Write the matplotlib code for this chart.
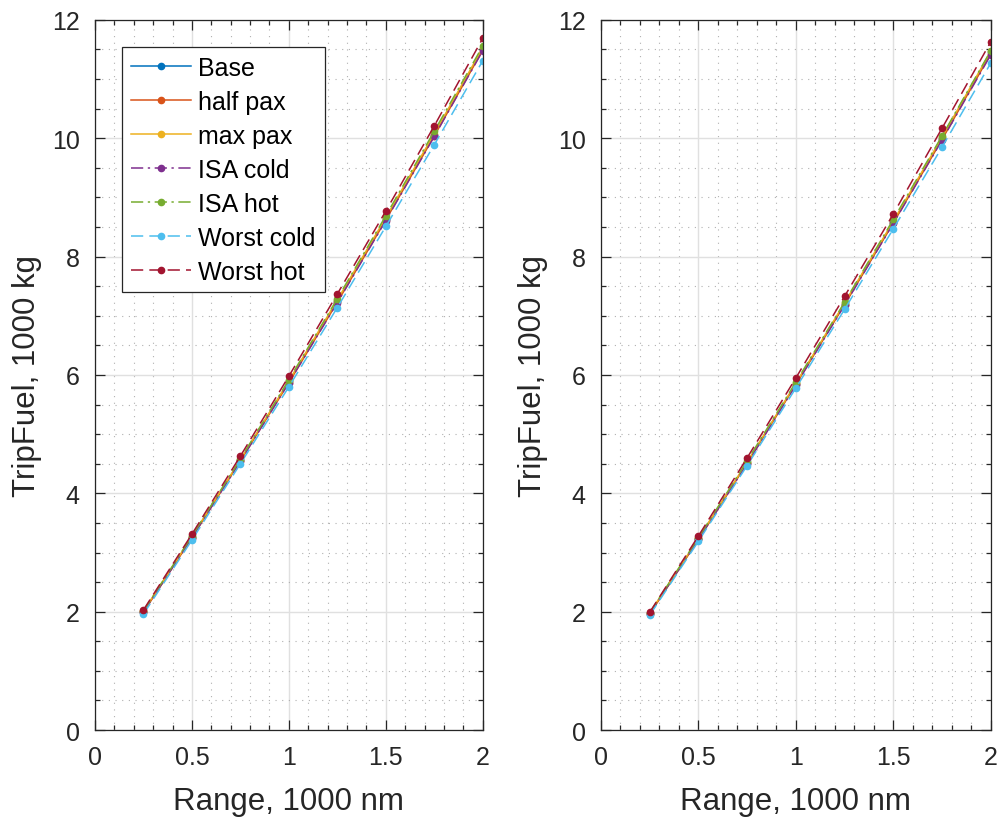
import numpy as np
import matplotlib
matplotlib.use("Agg")
from matplotlib import pyplot as plt
from matplotlib.ticker import MultipleLocator

plt.rcParams['font.family'] = ['Liberation Sans', 'DejaVu Sans']

# range, 1000 nm
rng = [0.25, 0.5, 0.75, 1.0, 1.25, 1.5, 1.75, 2.0]

labels = ['Base', 'half pax', 'max pax', 'ISA cold', 'ISA hot', 'Worst cold', 'Worst hot']

# trip fuel, 1000 kg (left panel)
left_base = [2.00, 3.26, 4.56, 5.89, 7.25, 8.64, 10.06, 11.51]
left_half = [1.99, 3.25, 4.55, 5.87, 7.23, 8.62, 10.04, 11.49]
left_max = [2.01, 3.27, 4.57, 5.90, 7.27, 8.66, 10.08, 11.53]
left_isa_cold = [1.99, 3.25, 4.54, 5.87, 7.22, 8.61, 10.03, 11.48]
left_isa_hot = [2.01, 3.28, 4.58, 5.92, 7.29, 8.69, 10.12, 11.56]
left_worst_cold = [1.96, 3.21, 4.50, 5.80, 7.14, 8.51, 9.89, 11.31]
left_worst_hot = [2.03, 3.31, 4.63, 5.98, 7.37, 8.77, 10.21, 11.69]

# trip fuel, 1000 kg (right panel)
right_base = [1.97, 3.23, 4.52, 5.85, 7.20, 8.58, 10.00, 11.45]
right_half = [1.96, 3.22, 4.51, 5.84, 7.19, 8.57, 9.98, 11.43]
right_max = [1.98, 3.24, 4.53, 5.86, 7.22, 8.60, 10.02, 11.47]
right_isa_cold = [1.96, 3.22, 4.50, 5.83, 7.18, 8.56, 9.97, 11.41]
right_isa_hot = [1.98, 3.25, 4.55, 5.88, 7.23, 8.63, 10.04, 11.48]
right_worst_cold = [1.94, 3.19, 4.47, 5.78, 7.11, 8.47, 9.85, 11.27]
right_worst_hot = [1.99, 3.28, 4.60, 5.95, 7.33, 8.72, 10.17, 11.63]

colors = [(0, 0.447, 0.741), (0.85, 0.325, 0.098), (0.929, 0.694, 0.125),
          (0.494, 0.184, 0.556), (0.466, 0.674, 0.188), (0.301, 0.745, 0.933),
          (0.635, 0.078, 0.184)]
styles = ['-', '-', '-', (0, (8, 3, 1.5, 3)), (0, (8, 3, 1.5, 3)), (0, (8, 4)), (0, (8, 4))]

left = [left_base, left_half, left_max, left_isa_cold, left_isa_hot, left_worst_cold, left_worst_hot]
right = [right_base, right_half, right_max, right_isa_cold, right_isa_hot, right_worst_cold, right_worst_hot]

fig = plt.figure(figsize=(10.02, 8.2), dpi=100)
ax1 = fig.add_axes([0.0948, 0.1085, 0.387, 0.866])
ax2 = fig.add_axes([0.5998, 0.1085, 0.389, 0.866])

dark = '#262626'
for ax, series in ((ax1, left), (ax2, right)):
    for ys, c, ls, lab in zip(series, colors, styles, labels):
        ax.plot(rng, ys, linestyle=ls, color=c, marker='.', markersize=9, linewidth=1.1, label=lab)
    ax.set_xlim(0, 2)
    ax.set_ylim(0, 12)
    ax.xaxis.set_minor_locator(MultipleLocator(0.1))
    ax.yaxis.set_major_locator(MultipleLocator(2))
    ax.yaxis.set_minor_locator(MultipleLocator(0.5))
    ax.set_xticks([0, 0.5, 1, 1.5, 2])
    ax.set_xticklabels(['0', '0.5', '1', '1.5', '2'])
    ax.grid(which='major', color='#e0e0e0', linewidth=1)
    ax.grid(which='minor', color='#b0b0b0', linestyle=(0, (1, 5)), linewidth=0.8)
    ax.set_axisbelow(True)
    ax.tick_params(which='both', direction='in', top=True, right=True, colors=dark,
                   labelcolor=dark, labelsize=18, width=0.9)
    ax.tick_params(axis='x', which='major', length=7, pad=11)
    ax.tick_params(axis='y', which='major', length=7, pad=11)
    ax.tick_params(which='minor', length=3.5)
    for s in ax.spines.values():
        s.set_color(dark)
        s.set_linewidth(0.9)
    ax.set_xlabel('Range, 1000 nm', fontsize=22.5, color=dark, labelpad=12)
    ax.set_ylabel('TripFuel, 1000 kg', fontsize=22.5, color=dark, labelpad=7)

leg = ax1.legend(loc='upper left', bbox_to_anchor=(0.07, 0.962), fontsize=18, fancybox=False,
                 framealpha=1, edgecolor=dark, borderaxespad=0, handlelength=2.4,
                 handletextpad=0.3, labelspacing=0.4, borderpad=0.35)
leg.get_frame().set_linewidth(0.9)

fig.savefig('out.png', dpi=100)
